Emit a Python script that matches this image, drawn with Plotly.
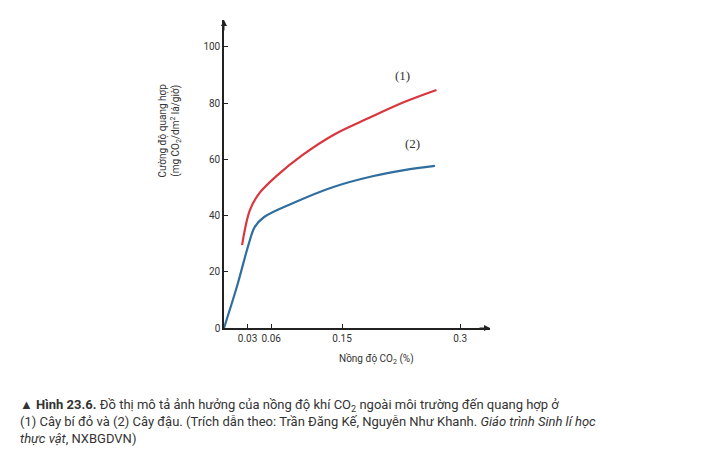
import plotly.graph_objects as go

# Curve (1) - cây bí đỏ
x1 = [0.023, 0.033, 0.045, 0.068, 0.100, 0.139, 0.184, 0.229, 0.270]
y1 = [29.5, 42, 48, 54.4, 61.6, 68.7, 74.7, 80.4, 84.7]
# Curve (2) - cây đậu
x2 = [0, 0.017, 0.031, 0.039, 0.051, 0.088, 0.139, 0.190, 0.229, 0.268]
y2 = [0, 15.3, 29.5, 35.9, 39.5, 44.5, 50.2, 54.1, 56.2, 57.7]

x_ticks = [0.03, 0.06, 0.15, 0.3]
x_ticklabels = ["0.03", "0.06", "0.15", "0.3"]
y_ticks = [0, 20, 40, 60, 80, 100]

font = "Liberation Sans Narrow, Roboto, Arial"

fig = go.Figure()
fig.add_trace(go.Scatter(x=x1, y=y1, mode="lines", line=dict(color="#d9363e", width=2.2, shape="spline")))
fig.add_trace(go.Scatter(x=x2, y=y2, mode="lines", line=dict(color="#2f6e9e", width=2.2, shape="spline")))

fig.update_layout(
    width=704, height=458, showlegend=False,
    plot_bgcolor="white", paper_bgcolor="white",
    margin=dict(l=216, r=222, t=12, b=138),
    font=dict(family=font, size=10, color="#333"),
    xaxis=dict(range=[0, 0.338], tickvals=x_ticks, ticktext=x_ticklabels, showgrid=False,
               zeroline=False, showline=True, linecolor="#222", linewidth=1.5, tickangle=0,
               ticks="inside", ticklen=4, tickcolor="#222"),
    yaxis=dict(range=[0, 109.6], tickvals=y_ticks, showgrid=False, zeroline=False,
               showline=True, linecolor="#222", linewidth=1.5,
               ticks="inside", ticklen=4, tickcolor="#222"),
)

fig.add_annotation(x=0.227, y=90, text="(1)", showarrow=False, font=dict(family="Liberation Serif", size=13))
fig.add_annotation(x=0.239, y=65.8, text="(2)", showarrow=False, font=dict(family="Liberation Serif", size=13))

# axis arrows
fig.add_annotation(x=1.0, y=0, xref="paper", yref="paper", ax=-12, ay=0, text="",
                   showarrow=True, arrowhead=2, arrowsize=1.2, arrowcolor="#222")
fig.add_annotation(x=0, y=1.0, xref="paper", yref="paper", ax=0, ay=12, text="",
                   showarrow=True, arrowhead=2, arrowsize=1.2, arrowcolor="#222")

fig.add_annotation(x=-0.26, y=0.8, xref="paper", yref="paper", textangle=-90, showarrow=False,
                   text="Cường độ quang hợp<br>(mg CO<sub>2</sub>/dm<sup>2</sup> lá/giờ)",
                   font=dict(size=10))
fig.add_annotation(x=0.72, y=-0.13, xref="paper", yref="paper", showarrow=False,
                   text="Nồng độ CO<sub>2</sub> (%)", font=dict(size=10))

caption = ("<b>▲ Hình 23.6.</b> Đồ thị mô tả ảnh hưởng của nồng độ khí CO<sub>2</sub> ngoài môi trường đến quang hợp ở<br>"
           "(1) Cây bí đỏ và (2) Cây đậu. (Trích dẫn theo: Trần Đăng Kế, Nguyễn Như Khanh. <i>Giáo trình Sinh lí học</i><br>"
           "<i>thực vật</i>, NXBGDVN)")
fig.add_annotation(xref="paper", x=-206/266, yref="paper", y=-0.39, xanchor="left", yanchor="bottom",
                   align="left", showarrow=False, text=caption, font=dict(size=13, color="#333"))

fig.write_html("out.html")
